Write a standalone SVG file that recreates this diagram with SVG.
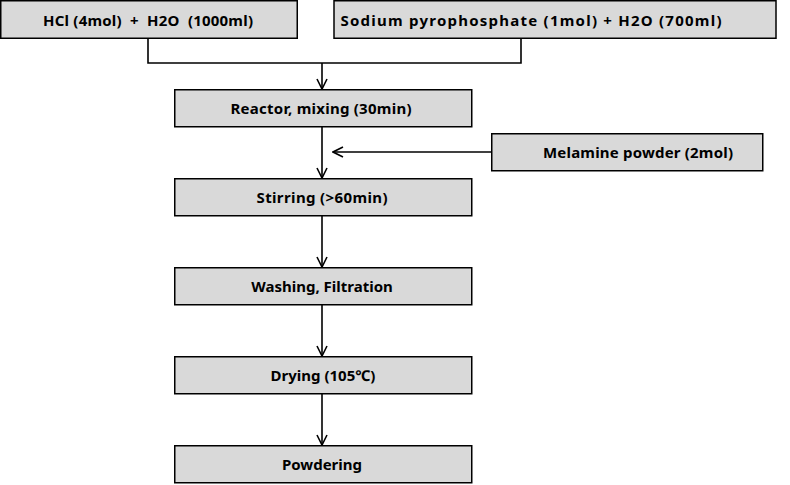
<svg xmlns="http://www.w3.org/2000/svg" width="790" height="485" viewBox="0 0 790 485">
<defs>
<marker id="arr" viewBox="0 0 12 12" refX="11" refY="6" markerWidth="12" markerHeight="12" markerUnits="userSpaceOnUse" orient="auto">
<path d="M1,1 L11,6 L1,11" fill="none" stroke="#000" stroke-width="1.6"/>
</marker>
<style>
.box{fill:#d9d9d9;stroke:#000;stroke-width:1.5}
.t{font-family:"Noto Sans","Open Sans","DejaVu Sans",sans-serif;font-weight:bold;font-size:15px;fill:#000;text-anchor:middle;dominant-baseline:central}
.c{fill:none;stroke:#000;stroke-width:1.6}
</style>
</defs>
<rect width="790" height="485" fill="#fff"/>
<g id="connectors">
<polyline class="c" points="148,38 148,63 521,63 521,38"/>
<line class="c" x1="322" y1="63" x2="322" y2="89" marker-end="url(#arr)"/>
<line class="c" x1="322" y1="127" x2="322" y2="178" marker-end="url(#arr)"/>
<line class="c" x1="491" y1="152" x2="333" y2="152" marker-end="url(#arr)"/>
<line class="c" x1="322" y1="216" x2="322" y2="267" marker-end="url(#arr)"/>
<line class="c" x1="322" y1="305" x2="322" y2="356" marker-end="url(#arr)"/>
<line class="c" x1="322" y1="394" x2="322" y2="445" marker-end="url(#arr)"/>
</g>
<g id="hcl"><rect class="box" x="0.75" y="0.75" width="296.5" height="37.5"/><text class="t" x="148" y="19.5" xml:space="preserve" textLength="210" lengthAdjust="spacing">HCl (4mol)  +  H2O  (1000ml)</text></g>
<g id="sodium"><rect class="box" x="334" y="0.75" width="442" height="37.5"/><text class="t" x="531" y="19.5" textLength="381" lengthAdjust="spacing">Sodium pyrophosphate (1mol) + H2O (700ml)</text></g>
<g id="reactor"><rect class="box" x="174.75" y="89.75" width="297" height="37"/><text class="t" x="321" y="108" textLength="181" lengthAdjust="spacing">Reactor, mixing (30min)</text></g>
<g id="melamine"><rect class="box" x="491.75" y="133.75" width="271" height="37"/><text class="t" x="638" y="152" textLength="190" lengthAdjust="spacing">Melamine powder (2mol)</text></g>
<g id="stirring"><rect class="box" x="174.75" y="178.75" width="297" height="37"/><text class="t" x="322" y="197" textLength="131" lengthAdjust="spacing">Stirring (&gt;60min)</text></g>
<g id="washing"><rect class="box" x="174.75" y="267.75" width="297" height="37"/><text class="t" x="322" y="286">Washing, Filtration</text></g>
<g id="drying"><rect class="box" x="174.75" y="356.75" width="297" height="37"/><text class="t" x="323" y="375">Drying (105℃)</text></g>
<g id="powdering"><rect class="box" x="174.75" y="445.75" width="297" height="37"/><text class="t" x="322" y="464">Powdering</text></g>
</svg>
